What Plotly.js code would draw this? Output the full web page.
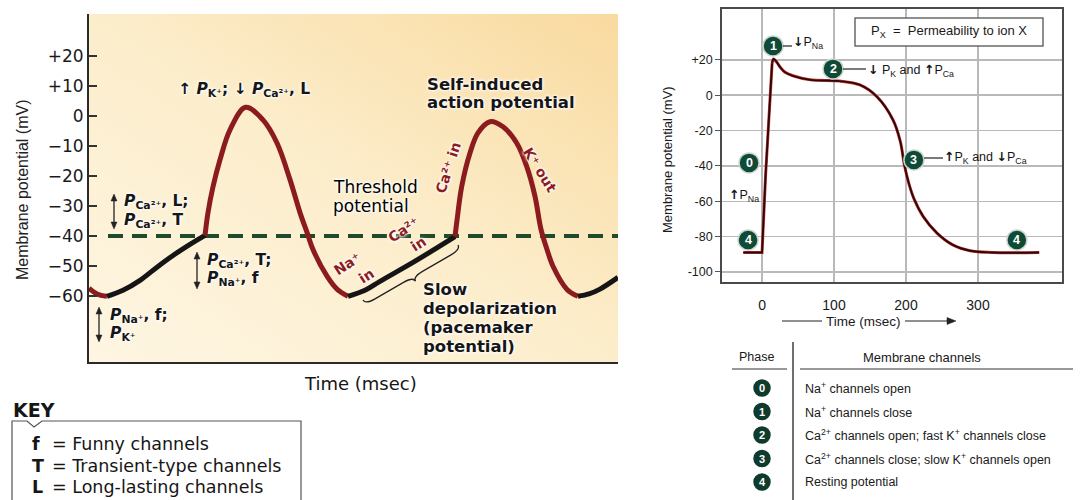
<!DOCTYPE html>
<html><head><meta charset="utf-8">
<script src="https://cdn.plot.ly/plotly-3.0.1.min.js"></script>
<style>html,body{margin:0;padding:0;background:#fff}#chart{width:1091px;height:500px}</style>
</head><body><div id="chart"></div>
<script>
// ---------- Left panel: pacemaker (SA node) potential; x = time (msec, arbitrary), y = mV
const startT = [0, 8, 18];
const startV = [-57.4, -59.3, -60.1];
const pace1T = [18, 34, 51, 68, 84, 101, 116];
const pace1V = [-60.1, -58.1, -54.8, -50.4, -46.5, -42.8, -39.8];
const ap1T = [116, 119, 124, 131, 141, 156.6, 174, 188, 201, 211, 218, 224, 238, 248, 259];
const ap1V = [-39.8, -32.2, -23.6, -14.6, -4.6, 2.9, -1.3, -9, -21.2, -32.2, -38.8, -44.5, -53.4, -57.7, -60.1];
const pace2T = [259, 276, 291, 324, 366];
const pace2V = [-60.1, -58.1, -55.1, -48.8, -40.2];
const ap2T = [366, 368, 372.7, 381, 389, 401, 414, 427.7, 437.7, 446, 452, 458, 464, 478, 489];
const ap2V = [-40.2, -34.8, -23.5, -12.3, -5.6, -1.9, -3.6, -9, -16.8, -26.8, -37.8, -44.5, -50.1, -57.8, -60.1];
const pace3T = [489, 500, 511, 529];
const pace3V = [-60.1, -59.3, -57.7, -53.8];
const thresholdT = [19, 529];
const thresholdV = -40;
const leftTickVals = [20, 10, 0, -10, -20, -30, -40, -50, -60];
const leftTickText = ['+20', '+10', '0', '\u221210', '\u221220', '\u221230', '\u221240', '\u221250', '\u221260'];

// ---------- Right panel: ventricular action potential
const riseT = [-26, 0, 5, 11, 14];
const riseV = [-89, -89, -45, 0, 18];
const plateauT = [14, 16, 20, 25, 32, 43, 67, 108, 136, 160, 182, 192, 198, 204, 211, 224, 243, 265, 289, 320, 385];
const plateauV = [18, 20.5, 19, 16, 13, 11, 8.7, 8, 5.8, -1, -14, -26, -40, -50, -58.5, -68.7, -78, -84.7, -88, -89, -89];
const rightXTicks = [0, 100, 200, 300];
const rightYTicks = [20, 0, -20, -40, -60, -80, -100];
const rightYText = ['+20', '0', '-20', '-40', '-60', '-80', '-100'];
const phaseMarkLabels = ['1', '2', '3', '0', '4', '4'];
const phaseMarkT = [15.3, 98.6, 211, -18, -19.4, 354];
const phaseMarkV = [27.9, 14.9, -36.6, -38.3, -81.9, -81.9];

// ---------- Table and key
const phaseNums = ['0', '1', '2', '3', '4'];
const phaseChannels = [
  'Na<sup>+</sup> channels open',
  'Na<sup>+</sup> channels close',
  'Ca<sup>2+</sup> channels open; fast K<sup>+</sup> channels close',
  'Ca<sup>2+</sup> channels close; slow K<sup>+</sup> channels open',
  'Resting potential'
];
const keySymbols = ['f', 'T', 'L'];
const keyMeanings = ['Funny channels', 'Transient-type channels', 'Long-lasting channels'];

const W = 1091, H = 500;
const PX = x => x / W;
const PY = y => 1 - y / H;
const RED = '#8c1b1f', BLK = '#151515', GREEN = '#1f4a2c';
const DV = 'DejaVu Sans, sans-serif';
const LIB = 'Liberation Sans, Arial, sans-serif';
const HALO = '0 0 2px #fff, 0 0 3px #fff, 0 0 4px #fff';
const UP = '<span style="font-family:DejaVu Sans;font-weight:bold">\u2191</span>';
const DN = '<span style="font-family:DejaVu Sans;font-weight:bold">\u2193</span>';

function seg(x, y, color, axis) {
  return {x: x, y: y, mode: 'lines', type: 'scatter', xaxis: axis[0], yaxis: axis[1],
    line: {color: color, width: 5, shape: 'spline', smoothing: 1}, hoverinfo: 'skip', showlegend: false};
}
const L = ['x', 'y'];
const data = [
  {x: thresholdT, y: thresholdT.map(() => thresholdV), mode: 'lines', type: 'scatter', xaxis: 'x', yaxis: 'y',
   line: {color: GREEN, width: 4, dash: '15px,9px'}, showlegend: false, hoverinfo: 'skip'},
  seg(startT, startV, RED, L),
  seg(pace1T, pace1V, BLK, L),
  seg(ap1T, ap1V, RED, L),
  seg(pace2T, pace2V, BLK, L),
  seg(ap2T, ap2V, RED, L),
  seg(pace3T, pace3V, BLK, L),
  {x: riseT, y: riseV, mode: 'lines', xaxis: 'x2', yaxis: 'y2', line: {color: '#d03a3a', width: 3}, showlegend: false},
  {x: plateauT, y: plateauV, mode: 'lines', xaxis: 'x2', yaxis: 'y2', line: {color: '#d03a3a', width: 3, shape: 'spline'}, showlegend: false},
  {x: riseT, y: riseV, mode: 'lines', xaxis: 'x2', yaxis: 'y2', line: {color: '#2a0909', width: 1.9}, showlegend: false},
  {x: plateauT, y: plateauV, mode: 'lines', xaxis: 'x2', yaxis: 'y2', line: {color: '#2a0909', width: 1.9, shape: 'spline'}, showlegend: false}
];

const ann = [];
const shapes = [];
function T(text, x, y, o) {
  o = o || {};
  const font = {family: o.family || DV, size: o.size || 15, color: o.color || '#161616', weight: o.weight || 'normal'};
  if (o.shadow) font.shadow = o.shadow;
  ann.push({text: text, x: PX(x), y: PY(y), xref: 'paper', yref: 'paper', showarrow: false,
    xanchor: o.xa || 'left', yanchor: 'middle', textangle: o.angle || 0, font: font});
}
function line(x0, y0, x1, y1, color, width, layer) {
  shapes.push({type: 'line', xref: 'paper', yref: 'paper', x0: PX(x0), y0: PY(y0), x1: PX(x1), y1: PY(y1),
    line: {color: color || '#222', width: width || 1.2}, layer: layer || 'above'});
}
function path(pts, close, fill, color, width) {
  let d = pts.map((p, i) => (i ? 'L' : 'M') + PX(p[0]) + ',' + PY(p[1])).join(' ') + (close ? ' Z' : '');
  shapes.push({type: 'path', xref: 'paper', yref: 'paper', path: d, fillcolor: fill || 'rgba(0,0,0,0)',
    line: {color: color || '#222', width: width === undefined ? 1 : width}, layer: 'above'});
}
function dblArrow(x, y1, y2) {
  line(x, y1 + 4, x, y2 - 4, '#222', 1.3);
  path([[x, y1], [x - 3, y1 + 7], [x + 3, y1 + 7]], true, '#222', '#222', 0.5);
  path([[x, y2], [x - 3, y2 - 7], [x + 3, y2 - 7]], true, '#222', '#222', 0.5);
}
function circlePx(cx, cy, r, fill, edge) {
  shapes.push({type: 'circle', xref: 'paper', yref: 'paper', xsizemode: 'pixel', ysizemode: 'pixel',
    xanchor: PX(cx), yanchor: PY(cy), x0: -r, x1: r, y0: -r, y1: r, fillcolor: fill,
    line: {color: edge, width: 1.5}, layer: 'above'});
}

// ---- left panel text
const Pit = '<i>P</i>';
const PS = 15.5;
T('\u2191 ' + Pit + '<sub>K\u207A</sub>; \u2193 ' + Pit + '<sub>Ca\u00B2\u207A</sub>, L', 176, 90, {size: PS, weight: 'bold', shadow: HALO});
dblArrow(114, 194, 229);
T(Pit + '<sub>Ca\u00B2\u207A</sub>, L;', 122, 202, {size: PS, weight: 'bold', shadow: HALO});
T(Pit + '<sub>Ca\u00B2\u207A</sub>, T', 122, 221, {size: PS, weight: 'bold', shadow: HALO});
dblArrow(197, 252, 289);
T(Pit + '<sub>Ca\u00B2\u207A</sub>, T;', 205, 261, {size: PS, weight: 'bold', shadow: HALO});
T(Pit + '<sub>Na\u207A</sub>, f', 205, 279, {size: PS, weight: 'bold', shadow: HALO});
dblArrow(99, 307, 342);
T(Pit + '<sub>Na\u207A</sub>, f;', 108, 316, {size: PS, weight: 'bold', shadow: HALO});
T(Pit + '<sub>K\u207A</sub>', 108, 334, {size: PS, weight: 'bold', shadow: HALO});

T('Self-induced', 425, 84, {size: 16.5, weight: 'bold', shadow: HALO});
T('action potential', 425, 103, {size: 16.5, weight: 'bold', shadow: HALO});
T('Threshold', 331, 187, {size: 17, color: '#000', shadow: HALO});
T('potential', 331, 206, {size: 17, color: '#000', shadow: HALO});
T('Slow', 421, 289, {size: 16.5, weight: 'bold', shadow: HALO});
T('depolarization', 421, 308, {size: 16.5, weight: 'bold', shadow: HALO});
T('(pacemaker', 421, 327, {size: 16.5, weight: 'bold', shadow: HALO});
T('potential)', 421, 346, {size: 16.5, weight: 'bold', shadow: HALO});

T('Ca\u00B2\u207A in', 448, 168, {xa: 'center', angle: -72, size: 14, weight: 'bold', color: RED, shadow: HALO});
T('K\u207A out', 540, 170, {xa: 'center', angle: 58, size: 14, weight: 'bold', color: RED, shadow: HALO});
T('Na\u207A', 347, 264, {xa: 'center', angle: -33, size: 14, weight: 'bold', color: RED, shadow: HALO});
T('in', 366, 276, {xa: 'center', angle: -33, size: 14, weight: 'bold', color: RED, shadow: HALO});
T('Ca\u00B2\u207A', 403, 230, {xa: 'center', angle: -33, size: 14, weight: 'bold', color: RED, shadow: HALO});
T('in', 418, 244, {xa: 'center', angle: -33, size: 14, weight: 'bold', color: RED, shadow: HALO});

T('Time (msec)', 360, 383, {xa: 'center', size: 18});
T('Membrane potential (mV)', 22, 190, {xa: 'center', angle: -90, size: 16, family: LIB, color: '#222'});

// brace under slow depolarization
(function () {
  const A = [363, 300], B = [458, 245], h = 10;
  const dx = B[0] - A[0], dy = B[1] - A[1], Ln = Math.hypot(dx, dy);
  const d = [dx / Ln, dy / Ln], n = [-d[1], d[0]];
  const P = (s, t) => [A[0] + d[0] * s + n[0] * t, A[1] + d[1] * s + n[1] * t];
  const f = p => PX(p[0]) + ',' + PY(p[1]);
  const pp = 'M' + f(P(0, 0)) + ' Q' + f(P(0, h / 2)) + ' ' + f(P(0.1 * Ln, h / 2)) +
    ' L' + f(P(0.4 * Ln, h / 2)) + ' Q' + f(P(0.5 * Ln, h / 2)) + ' ' + f(P(0.5 * Ln, h)) +
    ' Q' + f(P(0.5 * Ln, h / 2)) + ' ' + f(P(0.6 * Ln, h / 2)) +
    ' L' + f(P(0.9 * Ln, h / 2)) + ' Q' + f(P(Ln, h / 2)) + ' ' + f(P(Ln, 0));
  shapes.push({type: 'path', xref: 'paper', yref: 'paper', path: pp, line: {color: '#222', width: 1.3}, layer: 'above'});
})();

// ---- KEY
T('KEY', 11, 410, {size: 19, weight: 'bold'});
path([[12, 502], [12, 421], [27, 421], [34, 427], [42, 421], [301, 421], [301, 502]], false, '#fff', '#555', 1.2);
keySymbols.forEach((s, i) => {
  const y = 444 + i * 21.5;
  T(s, 30, y, {size: 17.5, weight: 'bold'});
  T('= ' + keyMeanings[i], 50, y, {size: 17.5});
});

// ---- right panel decorations
shapes.push({type: 'rect', xref: 'paper', yref: 'paper', x0: PX(855), x1: PX(1043), y0: PY(18), y1: PY(46),
  fillcolor: '#fff', line: {color: '#6a6a6a', width: 1.5}, layer: 'above'});
T('P<sub>X</sub>  =  Permeability to ion X', 949, 31, {xa: 'center', size: 13, family: LIB, color: '#1a1a1a'});

phaseMarkLabels.forEach((lab, i) => {
  shapes.push({type: 'circle', xref: 'x2', yref: 'y2', xsizemode: 'pixel', ysizemode: 'pixel',
    xanchor: phaseMarkT[i], yanchor: phaseMarkV[i], x0: -10, x1: 10, y0: -10, y1: 10,
    fillcolor: '#0f4a37', line: {color: '#c9d6cf', width: 1.5}, layer: 'above'});
  ann.push({text: '<b>' + lab + '</b>', x: phaseMarkT[i], y: phaseMarkV[i], xref: 'x2', yref: 'y2', showarrow: false,
    xanchor: 'center', yanchor: 'middle', font: {family: LIB, size: 12.5, color: '#fff'}});
});
line(783, 46, 792, 46, '#222', 1.2);
T(DN + 'P<sub>Na</sub>', 791, 43, {size: 12.5, family: LIB});
line(843, 69, 866, 69, '#222', 1.2);
T(DN + ' P<sub>K</sub> and ' + UP + 'P<sub>Ca</sub>', 866, 70, {size: 12.5, family: LIB});
line(924, 158, 943, 158, '#222', 1.2);
T(UP + 'P<sub>K</sub> and ' + DN + 'P<sub>Ca</sub>', 942, 157, {size: 12.5, family: LIB});
T(UP + 'P<sub>Na</sub>', 727, 195, {size: 12.5, family: LIB});

line(782, 321, 822, 321, '#222', 1.2);
line(905, 321, 950, 321, '#222', 1.2);
path([[956, 321], [947, 317.5], [947, 324.5]], true, '#222', '#222', 0.5);
T('Time (msec)', 863, 321, {xa: 'center', size: 13.5, family: LIB, color: '#1a1a1a'});
T('Membrane potential (mV)', 667, 160, {xa: 'center', angle: -90, size: 13, family: LIB, color: '#1a1a1a'});

// ---- table
T('Phase', 756, 357, {xa: 'center', size: 12.5, family: LIB, color: '#1a1a1a'});
T('Membrane channels', 922, 357, {xa: 'center', size: 13, family: LIB, color: '#1a1a1a'});
line(732, 369, 787, 369, '#333', 1.2);
line(800, 369, 1073, 369, '#333', 1.2);
line(793, 342, 793, 500, '#333', 1.4);
phaseNums.forEach((p, i) => {
  const y = 388 + i * 23.5;
  circlePx(762, y, 8, '#0e3b2d', '#0e3b2d');
  T('<b>' + p + '</b>', 762, y, {xa: 'center', size: 11, family: LIB, color: '#fff'});
  T(phaseChannels[i], 803, y, {size: 12.5, family: LIB, color: '#1a1a1a'});
});

// ---- background gradient for left panel
const svg = "<svg xmlns='http://www.w3.org/2000/svg' width='529' height='348' viewBox='0 0 529 348' preserveAspectRatio='none'>" +
  "<defs><linearGradient id='g' x1='0' y1='1' x2='1' y2='0'><stop offset='0' stop-color='#fef6e3'/>" +
  "<stop offset='0.5' stop-color='#fcedcb'/><stop offset='1' stop-color='#f9da9f'/></linearGradient></defs>" +
  "<rect width='529' height='348' fill='url(#g)'/></svg>";

const layout = {
  width: W, height: H, margin: {l: 0, r: 0, t: 0, b: 0},
  paper_bgcolor: '#fff', plot_bgcolor: 'rgba(0,0,0,0)', showlegend: false,
  images: [{source: 'data:image/svg+xml;charset=utf-8,' + encodeURIComponent(svg), xref: 'paper', yref: 'paper',
    x: PX(89), y: PY(14), sizex: 529 / W, sizey: 348 / H, xanchor: 'left', yanchor: 'top', sizing: 'stretch', layer: 'below'}],
  xaxis: {domain: [PX(89), PX(618)], range: [0, 529], anchor: 'y', showticklabels: false, ticks: '',
    showgrid: false, zeroline: false, showline: true, linecolor: '#2a2a2a', linewidth: 2},
  yaxis: {domain: [PY(362), PY(14)], range: [-82, 34], anchor: 'x', tickvals: leftTickVals, ticktext: leftTickText,
    ticks: 'inside', ticklen: 8, tickwidth: 1.5, tickcolor: '#333', showgrid: false, zeroline: false,
    showline: true, linecolor: '#2a2a2a', linewidth: 2, tickfont: {family: DV, size: 17, color: '#1a1a1a'}},
  xaxis2: {domain: [PX(722), PX(1062)], range: [-55.6, 416.7], anchor: 'y2', tickvals: rightXTicks,
    ticks: 'outside', ticklen: 9, tickcolor: 'rgba(0,0,0,0)', showgrid: true, gridcolor: '#b9b9b9', gridwidth: 1.5,
    zeroline: false, showline: true, mirror: true, linecolor: '#4a4a4a', linewidth: 1.8,
    tickfont: {family: LIB, size: 14, color: '#1a1a1a'}},
  yaxis2: {domain: [PY(282), PY(9)], range: [-105.7, 48.8], anchor: 'x2', tickvals: rightYTicks, ticktext: rightYText,
    ticks: 'outside', ticklen: 5, tickcolor: '#555', showgrid: true, gridcolor: '#b9b9b9', gridwidth: 1.5,
    zeroline: false, showline: true, mirror: true, linecolor: '#4a4a4a', linewidth: 1.8,
    tickfont: {family: LIB, size: 12.5, color: '#1a1a1a'}},
  annotations: ann,
  shapes: shapes
};
Plotly.newPlot('chart', data, layout, {staticPlot: true, displayModeBar: false});
</script>
</body></html>
